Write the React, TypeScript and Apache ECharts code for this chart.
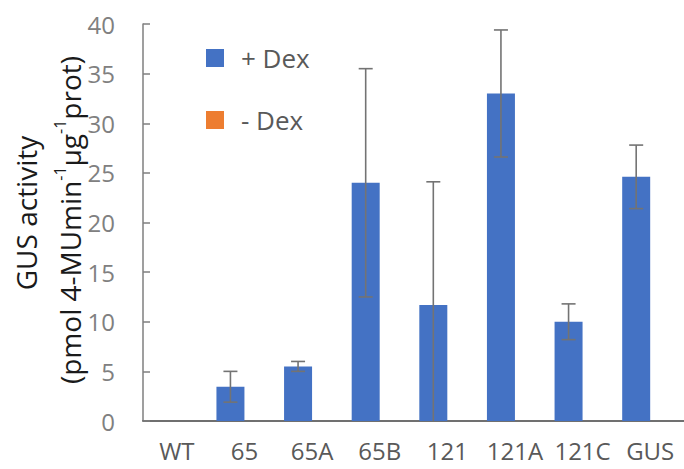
import React, { useEffect, useRef } from "react";
import * as echarts from "echarts";

const categories = ["WT", "65", "65A", "65B", "121", "121A", "121C", "GUS"];
const plusDex = [0, 3.45, 5.5, 24.0, 11.7, 33.0, 10.0, 24.6];
const plusDexErr = [0, 1.55, 0.5, 11.5, 12.4, 6.4, 1.8, 3.2];
const minusDex: (number | string)[] = ["-", "-", "-", "-", "-", "-", "-", "-"];
const yTicks = { min: 0, max: 40, interval: 5 };
const seriesNames = ["+ Dex", "- Dex"];

const FONT = "'Open Sans', 'Liberation Sans', sans-serif";
const BAR_WIDTH = 28;

export default function App() {
  const ref = useRef<HTMLDivElement>(null);
  useEffect(() => {
    if (!ref.current) return;
    const chart = echarts.init(ref.current, undefined, { renderer: "svg" });
    const errData = categories
      .map((_, i) => [i, plusDex[i], plusDexErr[i]])
      .filter((d) => d[2] > 0);
    chart.setOption({
      animation: false,
      backgroundColor: "#ffffff",
      grid: { left: 143, top: 24, width: 546, height: 397, containLabel: false },
      legend: {
        orient: "vertical",
        left: 201,
        top: 40,
        itemWidth: 18,
        itemHeight: 18,
        itemGap: 36,
        icon: "rect",
        data: seriesNames,
        textStyle: {
          fontFamily: FONT,
          fontSize: 26,
          color: "#595959",
          lineHeight: 26,
          padding: [0, 0, 0, 12],
        },
      },
      xAxis: {
        type: "category",
        data: categories,
        axisLine: { lineStyle: { color: "#404040", width: 1.5 } },
        axisTick: { show: false },
        axisLabel: {
          fontFamily: FONT,
          fontSize: 24,
          color: "#595959",
          margin: 17,
          interval: 0,
        },
      },
      yAxis: {
        type: "value",
        min: yTicks.min,
        max: yTicks.max,
        interval: yTicks.interval,
        splitLine: { show: false },
        axisLine: { show: true, lineStyle: { color: "#7f7f7f", width: 1.5 } },
        axisTick: {
          show: true,
          inside: true,
          length: 7,
          lineStyle: { color: "#7f7f7f", width: 1.5 },
        },
        axisLabel: {
          fontFamily: FONT,
          fontSize: 24,
          color: "#808080",
          margin: 28,
        },
      },
      graphic: [
        {
          type: "text",
          x: 26,
          y: 213,
          rotation: Math.PI / 2,
          style: {
            text: "GUS activity",
            fontFamily: FONT,
            fontSize: 28,
            fill: "#1a1a1a",
            align: "center",
            verticalAlign: "middle",
          },
        },
        {
          type: "text",
          x: 67,
          y: 220,
          rotation: Math.PI / 2,
          style: {
            text: "{n|(pmol 4-MUmin}{s|-1}{n|µg}{s|-1}{n|prot)}",
            fontFamily: FONT,
            fill: "#1a1a1a",
            align: "center",
            verticalAlign: "middle",
            rich: {
              n: { fontFamily: FONT, fontSize: 28, lineHeight: 34, verticalAlign: "bottom", fill: "#1a1a1a" },
              s: { fontFamily: FONT, fontSize: 16, lineHeight: 34, verticalAlign: "top", fill: "#1a1a1a", padding: [2, 0, 0, 0] },
            },
          },
        },
      ],
      series: [
        {
          name: seriesNames[0],
          type: "bar",
          data: plusDex,
          barWidth: BAR_WIDTH,
          barGap: "0%",
          itemStyle: { color: "#4472C4" },
        },
        {
          name: seriesNames[1],
          type: "bar",
          data: minusDex,
          barWidth: BAR_WIDTH,
          barGap: "0%",
          itemStyle: { color: "#ED7D31" },
        },
        {
          type: "custom",
          name: "err",
          data: errData,
          z: 10,
          renderItem: (params: any, api: any) => {
            const i = api.value(0);
            const v = api.value(1);
            const e = api.value(2);
            const x = api.coord([i, 0])[0] - BAR_WIDTH / 2;
            const yTop = api.coord([i, v + e])[1];
            const yBot = api.coord([i, Math.max(0, v - e)])[1];
            const cap = 7;
            const ls = { stroke: "#737373", lineWidth: 1.6 };
            const children: any[] = [
              { type: "line", shape: { x1: x, y1: yTop, x2: x, y2: yBot }, style: ls },
              { type: "line", shape: { x1: x - cap, y1: yTop, x2: x + cap, y2: yTop }, style: ls },
            ];
            if (v - e > 0) {
              children.push({ type: "line", shape: { x1: x - cap, y1: yBot, x2: x + cap, y2: yBot }, style: ls });
            }
            return { type: "group", children };
          },
        },
      ],
    });
    return () => chart.dispose();
  }, []);
  return (
    <div
      ref={ref}
      style={{ position: "fixed", left: 0, top: 0, width: 684, height: 469, background: "#fff" }}
    />
  );
}
